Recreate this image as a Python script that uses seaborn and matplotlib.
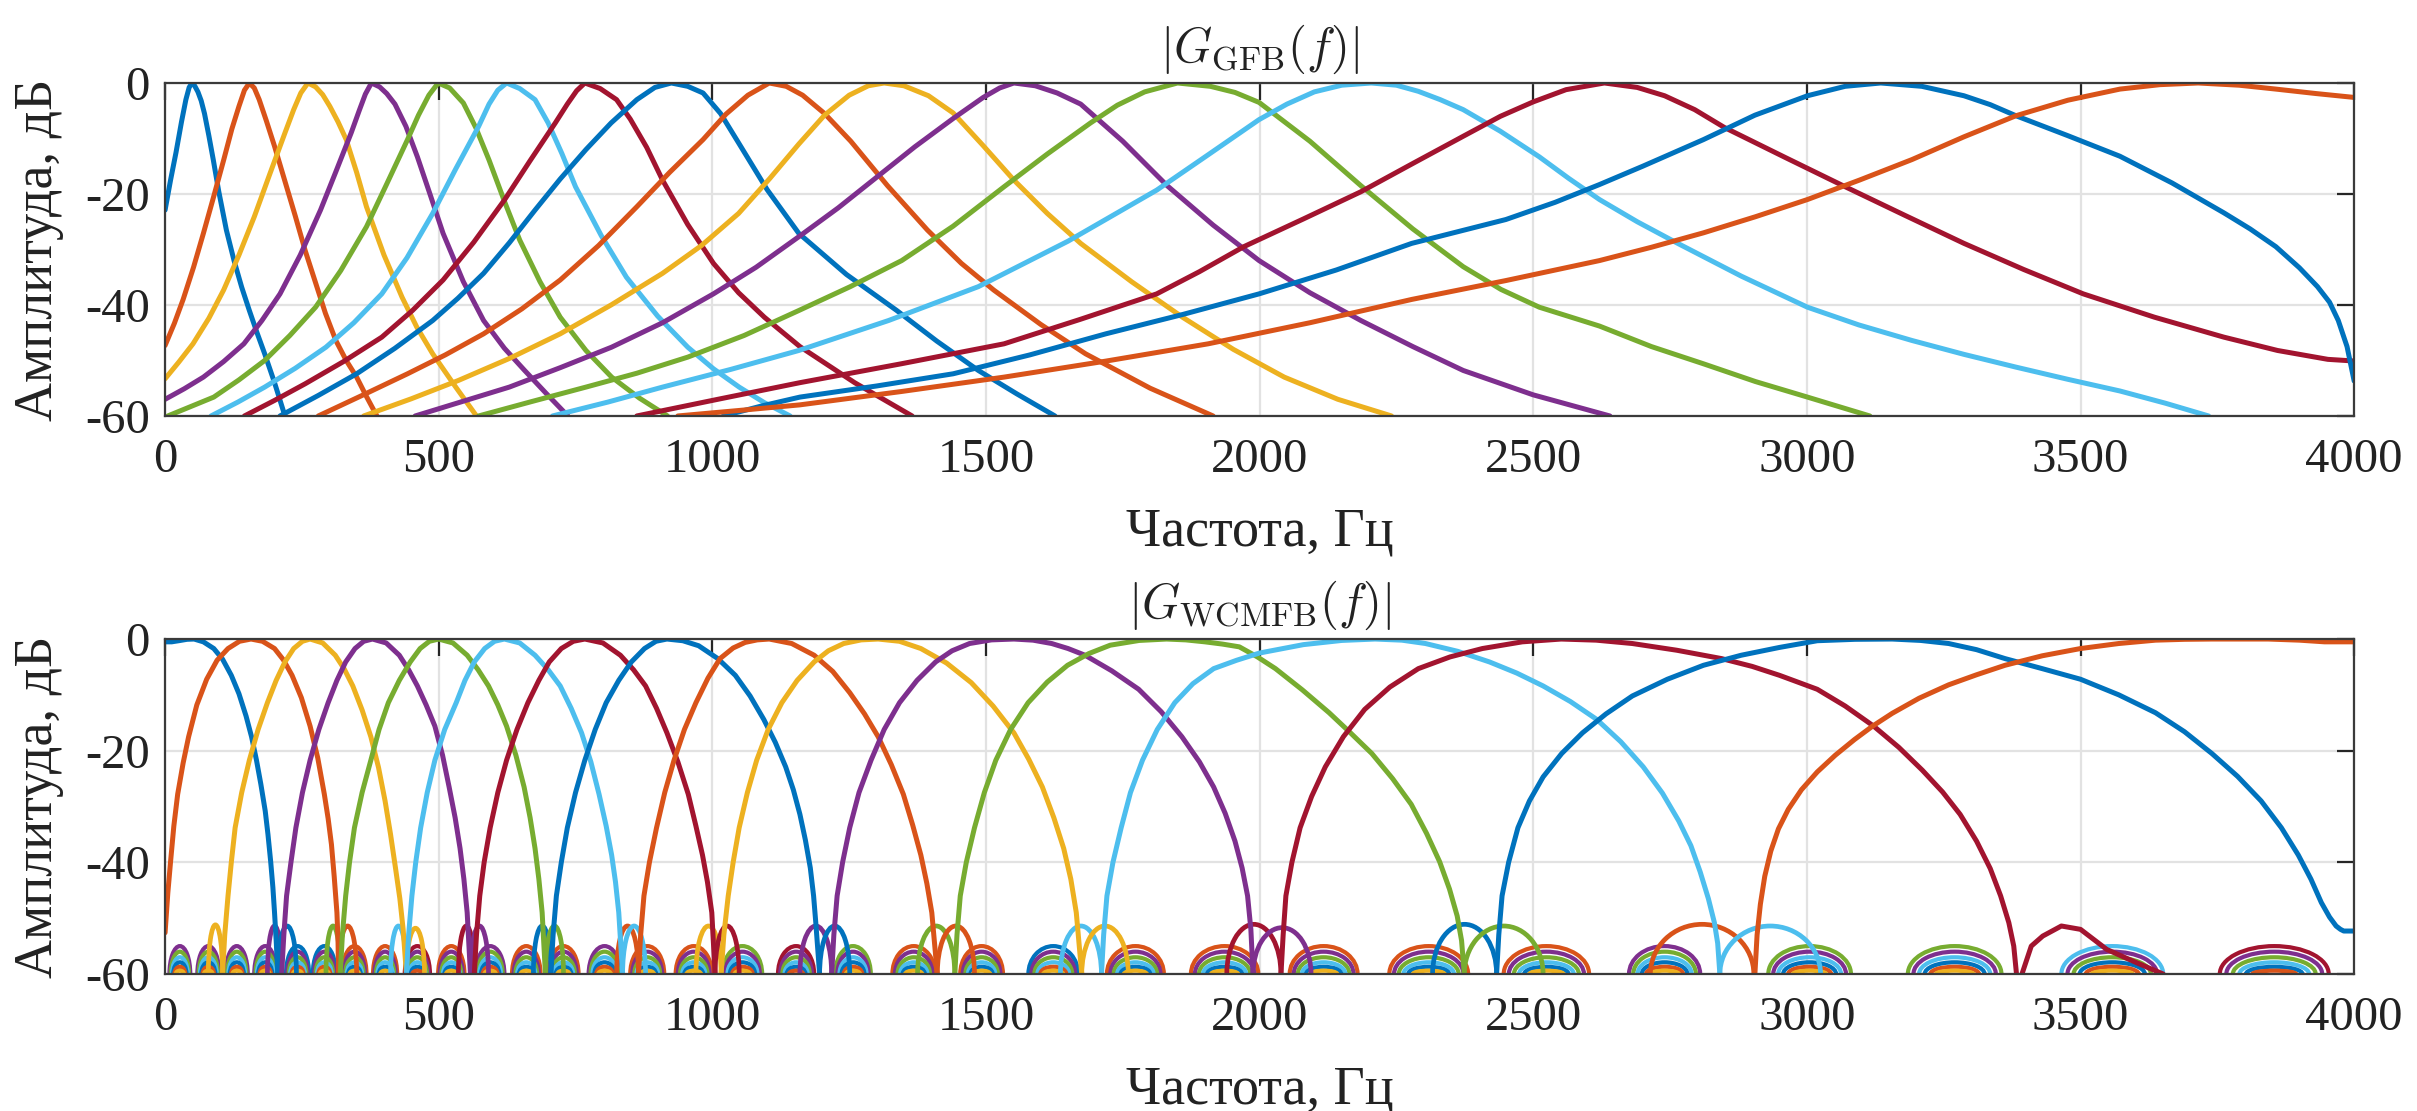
import matplotlib
matplotlib.use("Agg")
import matplotlib.pyplot as plt
from matplotlib.patches import Arc
import pandas as pd
import seaborn as sns

# MATLAB default line colours, cycled over the 16 filters
colors = ['#0072BD', '#D95319', '#EDB120', '#7E2F8E', '#77AC30', '#4DBEEE', '#A2142F']

freq_ticks = [0, 500, 1000, 1500, 2000, 2500, 3000, 3500, 4000]
db_ticks = [-60, -40, -20, 0]

# ---- |G_GFB(f)| : points (Hz, dB) ----
gfb_f = [
    [0, 10, 20, 30, 38, 44, 49, 54, 60, 66, 72, 80, 88, 98, 112, 126, 140, 154, 168, 182, 200, 219],
    [0, 17, 33, 52, 70, 89, 107, 122, 135, 145, 154, 163, 172, 185, 200, 219, 238, 256, 275, 293, 312, 331,
     350, 368, 387],
    [0, 25, 51, 80, 107, 135, 163, 191, 219, 235, 248, 261, 275, 288, 301, 316, 331, 350, 368, 400, 433, 460,
     489, 529, 569],
    [0, 35, 70, 107, 144, 177, 210, 247, 284, 312, 340, 355, 366, 377, 392, 405, 420, 440, 461, 485, 508, 545,
     582, 620, 657, 697, 736],
    [5, 47, 89, 135, 182, 228, 275, 321, 368, 405, 443, 463, 482, 499, 520, 545, 568, 592, 620, 648, 685, 722,
     769, 816, 867, 918],
    [84, 133, 182, 238, 294, 345, 396, 442, 489, 531, 573, 592, 608, 624, 648, 676, 700, 725, 750, 797, 843,
     900, 955, 1002, 1049, 1095, 1142],
    [145, 200, 256, 326, 396, 452, 508, 564, 620, 667, 713, 735, 752, 767, 795, 825, 850, 880, 909, 955, 1002,
     1048, 1095, 1160, 1260, 1365],
    [210, 280, 350, 420, 489, 535, 582, 629, 676, 722, 769, 815, 862, 895, 925, 955, 983, 1015, 1048, 1100,
     1158, 1245, 1337, 1410, 1486, 1556, 1626],
    [280, 360, 443, 512, 582, 652, 722, 792, 862, 922, 983, 1025, 1065, 1104, 1135, 1165, 1205, 1253, 1320,
     1393, 1455, 1514, 1600, 1682, 1800, 1915],
    [363, 450, 536, 630, 722, 815, 909, 980, 1048, 1105, 1158, 1205, 1250, 1285, 1314, 1350, 1395, 1440, 1495,
     1551, 1612, 1673, 1766, 1859, 1952, 2045, 2143, 2241],
    [457, 543, 629, 722, 816, 909, 1002, 1080, 1158, 1230, 1300, 1370, 1440, 1495, 1525, 1551, 1590, 1630,
     1673, 1750, 1831, 1915, 1999, 2092, 2185, 2280, 2372, 2500, 2640],
    [573, 670, 769, 862, 955, 1058, 1158, 1252, 1346, 1440, 1533, 1612, 1691, 1740, 1790, 1850, 1910, 1955,
     1999, 2092, 2185, 2280, 2372, 2441, 2511, 2621, 2716, 2811, 2906, 3001, 3115],
    [708, 809, 909, 1034, 1158, 1322, 1486, 1650, 1812, 1905, 1999, 2050, 2100, 2150, 2204, 2250, 2290, 2330,
     2372, 2440, 2511, 2565, 2621, 2690, 2764, 2880, 3001, 3095, 3192, 3287, 3382, 3477, 3572, 3655, 3734],
    [862, 1010, 1160, 1345, 1533, 1672, 1812, 1890, 1971, 2080, 2185, 2280, 2372, 2440, 2500, 2560, 2630,
     2690, 2740, 2795, 2849, 2960, 3068, 3178, 3287, 3396, 3505, 3635, 3762, 3860, 3952, 4000],
    [1020, 1090, 1160, 1300, 1440, 1580, 1719, 1860, 1999, 2140, 2278, 2450, 2540, 2621, 2700, 2811, 2905,
     3001, 3070, 3135, 3210, 3287, 3335, 3382, 3477, 3572, 3667, 3762, 3810, 3857, 3900, 3933, 3955, 3971,
     3987, 4000],
    [937, 1050, 1160, 1345, 1533, 1720, 1906, 2092, 2278, 2450, 2621, 2716, 2811, 2906, 3001, 3096, 3192,
     3287, 3382, 3477, 3572, 3645, 3715, 3790, 3857, 3930, 4000],
]
gfb_db = [
    [-22.9, -17.5, -12.5, -7, -3, -0.8, 0, -0.5, -1.6, -3.2, -5.5, -9.5, -13.8, -19.5, -26.5, -32, -36.8, -41,
     -45, -48.8, -54, -60],
    [-47.3, -43.3, -39, -33.2, -27.1, -20.4, -13.9, -8.3, -4.2, -1.3, 0, -0.9, -3, -6.8, -11.4, -17.7, -24,
     -30.2, -36, -41.5, -46.4, -50, -53, -56.5, -60],
    [-53.3, -50.3, -47, -42.4, -37.3, -31, -24.1, -16.5, -9, -4.8, -1.8, 0, -0.7, -2.1, -4.2, -7, -10.2, -16.1,
     -22.3, -31, -38.6, -44, -48.8, -54.5, -60],
    [-57, -55.1, -53, -50.2, -47, -42.8, -38, -31, -22.9, -16, -9, -4.9, -2, 0, -0.7, -1.9, -3.8, -7.8, -13.3,
     -20.3, -27.1, -35.8, -42.8, -47.8, -51.8, -56, -60],
    [-60, -58.3, -56.6, -53.5, -50, -45.5, -40.4, -33.8, -25.9, -18.2, -10.2, -5.8, -2.2, 0, -0.9, -3.6, -8.1,
     -13.9, -21.3, -28.3, -35.8, -42.2, -48.2, -53, -56.8, -60],
    [-60, -57.5, -54.8, -51.4, -47.6, -43.2, -38, -31.5, -23.5, -15.5, -7.8, -3.8, -1.3, 0, -1, -3, -7.2, -12.7,
     -18.7, -27.5, -35, -42, -47.6, -51.5, -54.8, -57.6, -60],
    [-60, -57.2, -54.2, -50.2, -45.8, -41, -35.5, -28.7, -21.1, -14, -7.2, -3.8, -1.4, 0, -1, -3, -6.5, -11.6,
     -17.5, -25.5, -32.5, -37.8, -42.2, -47.5, -54, -60],
    [-60, -56.3, -52.4, -47.8, -42.8, -38.8, -34.3, -28.8, -22.9, -17.3, -12, -7.2, -3, -0.8, 0, -0.6, -1.8,
     -5.5, -10.8, -19.2, -27.1, -34.5, -41, -46.5, -51.8, -56, -60],
    [-60, -56.3, -52.4, -49, -45.2, -40.7, -35.5, -29.3, -22.3, -16.1, -10.2, -5.6, -2.2, 0, -0.6, -2.2, -5.5,
     -10.5, -18.5, -26.5, -32.5, -37.3, -43.5, -48.8, -55, -60],
    [-60, -56.9, -53.6, -49.6, -45.2, -40, -34.3, -29.3, -23.5, -17.2, -11, -5.8, -2.2, -0.5, 0, -0.5, -2.3,
     -5.4, -11.3, -17.5, -23.5, -28.9, -35.8, -42.2, -48, -53, -57, -60],
    [-60, -57.4, -54.8, -51.3, -47.6, -43.2, -38, -33.2, -27.7, -22.5, -17, -11.5, -6.4, -2.6, -0.9, 0, -0.5,
     -1.8, -3.8, -10.5, -18.5, -25.6, -32, -37.8, -42.8, -47.5, -51.8, -56.2, -60],
    [-60, -57.4, -54.8, -52.3, -49.4, -45.5, -41, -36.7, -32, -25.8, -18.7, -12.8, -7.2, -4, -1.6, 0, -0.6,
     -1.7, -3.5, -10.5, -18.5, -26.3, -33.1, -37.2, -40.4, -43.8, -47.5, -50.6, -53.8, -56.6, -60],
    [-60, -57.5, -54.8, -51.6, -48.2, -42.8, -36.7, -28.5, -19.3, -13, -6.6, -3.8, -1.6, -0.4, 0, -0.4, -1.5,
     -3, -4.8, -8.7, -13.3, -17.2, -21, -25, -28.9, -34.8, -40.4, -43.6, -46.4, -48.9, -51.2, -53.4, -55.5,
     -57.7, -60],
    [-60, -57, -54, -50.6, -47, -42.6, -38, -34, -29.5, -24.5, -19.6, -14.5, -9.6, -6, -3.4, -1.2, 0, -0.8,
     -2.3, -4.8, -8, -13.4, -18.6, -23.8, -28.9, -33.6, -38, -42.2, -45.8, -48.2, -49.8, -50.1],
    [-60, -58.2, -56.6, -54.6, -52.4, -49, -45.2, -41.7, -38, -33.7, -28.9, -24.6, -21.5, -18.3, -15, -10.2,
     -5.8, -2.3, -0.6, 0, -0.6, -2.3, -3.9, -5.9, -9.5, -13.2, -18, -23.4, -26.3, -29.5, -33.3, -36.7, -39.5,
     -42.8, -47.5, -53.7],
    [-60, -59, -58, -55.6, -53, -50.1, -47, -43.2, -39, -35.6, -32, -29.6, -27, -24.1, -21, -17.5, -13.8,
     -9.7, -5.9, -3.1, -1.1, -0.3, 0, -0.4, -1.1, -1.9, -2.6],
]

# ---- |G_WCMFB(f)| : main lobes (Hz, dB) ----
wc_f = [
    [0, 12, 25, 40, 53, 70, 89, 105, 121, 135, 148, 158, 167, 175, 183, 188, 193, 197, 200, 203, 206],
    [0, 5, 10, 16, 23, 33, 43, 58, 76, 95, 115, 136, 157, 178, 200, 216, 232, 249, 265, 279, 291, 298, 304,
     309, 314, 316, 317],
    [105, 109, 115, 121, 128, 140, 154, 170, 187, 203, 219, 235, 251, 265, 288, 311, 327, 343, 360, 376, 390,
     402, 412, 421, 429, 435, 441],
    [213, 217, 222, 230, 239, 251, 265, 281, 298, 314, 330, 347, 363, 379, 404, 428, 445, 461, 477, 493, 507,
     519, 530, 539, 546, 552, 558],
    [320, 324, 330, 337, 346, 360, 376, 391, 408, 428, 448, 466, 483, 500, 526, 552, 572, 591, 608, 624, 641,
     656, 667, 676, 683, 689, 695],
    [441, 445, 451, 458, 467, 479, 493, 511, 532, 548, 565, 584, 602, 620, 648, 676, 700, 722, 742, 761, 778,
     793, 806, 816, 823, 829, 836],
    [565, 569, 575, 583, 594, 608, 624, 643, 663, 683, 702, 724, 746, 767, 800, 832, 856, 878, 898, 917, 937,
     956, 970, 982, 991, 999, 1005],
    [705, 709, 715, 724, 735, 750, 767, 786, 806, 829, 852, 876, 897, 917, 946, 975, 1010, 1042, 1069, 1094,
     1115, 1134, 1148, 1160, 1170, 1179, 1185, 1189, 1196],
    [865, 869, 875, 885, 898, 913, 930, 949, 970, 992, 1014, 1038, 1060, 1082, 1104, 1145, 1186, 1220, 1251,
     1278, 1303, 1327, 1349, 1366, 1381, 1392, 1401, 1411],
    [1016, 1021, 1029, 1038, 1049, 1064, 1081, 1102, 1127, 1155, 1186, 1212, 1240, 1272, 1303, 1342, 1381,
     1428, 1473, 1513, 1551, 1578, 1603, 1624, 1642, 1655, 1665, 1675],
    [1218, 1222, 1228, 1238, 1251, 1268, 1290, 1314, 1342, 1374, 1408, 1438, 1470, 1510, 1551, 1586, 1620,
     1650, 1681, 1730, 1779, 1820, 1858, 1890, 1916, 1937, 1955, 1968, 1978, 1984, 1988],
    [1443, 1447, 1453, 1464, 1479, 1497, 1518, 1545, 1577, 1612, 1649, 1688, 1727, 1780, 1830, 1865, 1900,
     1932, 1963, 1996, 2029, 2078, 2127, 2166, 2205, 2243, 2277, 2305, 2329, 2347, 2361, 2369, 2374],
    [1711, 1715, 1721, 1732, 1747, 1764, 1786, 1813, 1845, 1878, 1916, 1958, 2000, 2080, 2150, 2211, 2260,
     2303, 2362, 2420, 2470, 2518, 2568, 2616, 2660, 2701, 2736, 2766, 2788, 2805, 2820, 2831, 2837, 2841],
    [2039, 2043, 2048, 2059, 2074, 2095, 2120, 2153, 2192, 2238, 2290, 2348, 2407, 2480, 2551, 2615, 2681,
     2762, 2844, 2900, 2950, 3019, 3070, 3122, 3168, 3211, 3248, 3280, 3310, 3335, 3354, 3369, 3378, 3383,
     3388, 3393, 3410, 3431, 3465, 3500, 3548, 3603, 3651, 3660],
    [2433, 2437, 2443, 2455, 2472, 2493, 2518, 2552, 2590, 2633, 2681, 2745, 2811, 2880, 2950, 3019, 3088,
     3156, 3208, 3259, 3310, 3362, 3430, 3500, 3570, 3637, 3690, 3740, 3787, 3830, 3867, 3898, 3921, 3940,
     3955, 3967, 3975, 3981, 4000],
    [2905, 2909, 2915, 2923, 2934, 2948, 2966, 2990, 3019, 3052, 3087, 3120, 3156, 3205, 3259, 3310, 3362,
     3430, 3500, 3570, 3637, 3690, 3740, 3790, 3843, 3900, 3946, 4000],
]
wc_db = [
    [-0.5, -0.5, -0.3, -0.05, 0, -0.5, -1.7, -3.6, -6.5, -9.8, -13.8, -17.5, -21.7, -26, -30.8, -35, -39.9,
     -44.5, -49, -54, -60],
    [-52.6, -45.5, -39.9, -33.5, -27.8, -22.2, -17.5, -11.8, -7.2, -3.8, -1.7, -0.4, 0, -0.4, -1.7, -3.7,
     -6.5, -10.5, -15.6, -21.3, -27.8, -32.2, -36.8, -42.5, -49, -54, -60],
    [-60, -53, -46, -40, -33.8, -27.5, -21.7, -16.2, -11.4, -7.4, -4.1, -1.7, -0.4, 0, -0.7, -2.9, -5.3,
     -8.4, -12.7, -17.5, -23, -29, -35, -41, -46.5, -52, -60],
    [-60, -53, -46, -40, -33.8, -27.5, -21.7, -16.2, -11.4, -7.4, -4.1, -1.7, -0.4, 0, -0.7, -2.9, -5.5,
     -8.4, -11.8, -15.6, -20.8, -26.5, -32, -37.5, -43, -49, -60],
    [-60, -53, -46, -40, -33.8, -27.5, -21.7, -16.2, -11.4, -7.4, -4.1, -1.7, -0.4, 0, -0.7, -2.9, -5.5,
     -8.4, -11.8, -15.6, -20.8, -26.5, -32, -37.5, -43, -49, -60],
    [-60, -53, -46, -40, -33.8, -27.5, -21.7, -16.2, -11.4, -7.4, -4.1, -1.7, -0.4, 0, -0.7, -2.9, -5.5,
     -8.4, -12.4, -16.8, -22, -27.8, -33.5, -38.7, -43.5, -49, -60],
    [-60, -53, -46, -40, -33.8, -27.5, -21.7, -16.2, -11.4, -7.4, -4.1, -1.7, -0.4, 0, -0.7, -2.9, -5.5,
     -8.4, -12.4, -16.8, -22, -27.8, -33.5, -38.7, -43.5, -49, -60],
    [-60, -53, -46, -40, -33.8, -27.5, -21.7, -16.2, -11.4, -7.4, -4.1, -1.7, -0.4, 0, -0.3, -1.2, -3.5,
     -6.5, -10.2, -14.4, -18.5, -22.9, -27, -31.4, -36, -41, -46, -50.8, -60],
    [-60, -53, -46, -40, -33.8, -27.5, -21.7, -16.2, -11.4, -7, -3.5, -1.6, -0.6, -0.15, 0, -0.8, -2.9, -5.8,
     -9.6, -13.4, -17.5, -22.5, -27.8, -33.3, -38.7, -43.8, -49, -60],
    [-60, -53, -46, -40, -33.8, -27.5, -21.7, -16.2, -11.4, -7.4, -4.1, -2.1, -0.8, -0.15, 0, -0.4, -1.7,
     -4.3, -7.8, -12, -16.8, -21.5, -26.5, -32, -37.5, -43, -49, -60],
    [-60, -53, -46, -40, -33.8, -27.5, -21.7, -16.2, -11.4, -7.4, -4.1, -2.1, -0.8, -0.15, 0, -0.2, -0.8,
     -1.7, -2.9, -5.7, -9, -13, -17.5, -22, -26.5, -31.2, -36.2, -41, -46, -52, -60],
    [-60, -53, -46, -40, -33.8, -27.5, -21.7, -16.2, -11.4, -7.7, -4.7, -2.6, -1.1, -0.25, 0, -0.15, -0.5,
     -0.9, -1.4, -3.2, -5.3, -9.1, -13.2, -16.8, -20.5, -25, -29.6, -34.8, -39.9, -44.8, -49.6, -54, -60],
    [-60, -53, -46, -40, -33.8, -27.5, -21.7, -16.2, -11.4, -8, -5.3, -3.8, -2.5, -1, -0.25, 0, -0.2, -0.8,
     -2.2, -4.1, -6.1, -8.4, -11.2, -14.4, -18.4, -22.9, -27.6, -32.6, -37, -41.7, -46.5, -50.8, -54.5, -60],
    [-60, -53, -46, -40, -33.8, -28.2, -22.9, -17.5, -12.6, -8.6, -5.3, -3.2, -1.7, -0.5, 0, -0.2, -0.8, -2,
     -3.5, -4.9, -6.5, -9, -12, -15.6, -19.4, -23.5, -27.4, -31.4, -36.2, -41.1, -46, -50.8, -55, -60,
     -65, -60, -55, -53.2, -51.4, -52, -55.6, -58, -60, -62],
    [-60, -53, -46, -40, -33.8, -29, -24.7, -20.5, -16.8, -13.4, -10.2, -7.2, -4.7, -2.9, -1.5, -0.3, -0.05,
     0, -0.25, -0.8, -1.9, -3.5, -5.3, -7.2, -10, -13.2, -16.6, -20.5, -24.6, -29, -33.8, -38.7, -43, -47.2,
     -49.8, -51.4, -52, -52.3, -52.3],
    [-60, -53, -47.5, -42.5, -38, -34, -30.5, -27, -23.8, -20.8, -18, -15.6, -13.3, -10.6, -8.2, -6.4, -4.7,
     -3, -1.7, -0.8, -0.2, -0.05, 0, 0, 0, -0.2, -0.5, -0.5],
]

# first sidelobes next to each main lobe: filter index, left end, right end, peak (dB)
side_filter = [2, 3, 0, 4, 1, 5, 2, 6, 3, 0, 4, 1, 5, 2, 6, 3, 0, 4, 1, 5, 2, 6, 3, 0, 4, 1, 5]
side_left = [79, 187, 206, 294, 317, 412, 441, 536, 558, 673, 695, 825, 836, 970, 1005, 1160, 1196,
             1375, 1411, 1636, 1675, 1940, 1988, 2316, 2374, 2714, 2841]
side_right = [105, 213, 240, 320, 350, 441, 474, 565, 591, 705, 728, 865, 878, 1016, 1049, 1218, 1251,
              1443, 1479, 1711, 1760, 2039, 2094, 2433, 2518, 2903, 3025]
side_peak = [-51.2, -51.4, -51.4, -51.4, -51.4, -51.4, -51.8, -51.4, -51.4, -51.4, -51.4, -51.4, -51.4,
             -51.4, -51.4, -51.4, -51.4, -51.4, -51.4, -51.4, -51.4, -51.1, -51.7, -51.1, -51.4, -51.1, -51.4]

# clusters of low sidelobes along the floor: centre, outer width, filter on top
cluster_f = [27, 79, 131, 183, 242, 291, 346, 402, 461, 523, 594, 660, 728, 803, 881, 966, 1055, 1153,
             1257, 1368, 1492, 1623, 1773, 1936, 2117, 2309, 2524, 2740, 3005, 3270, 3558, 3854]
cluster_w = [38, 40, 40, 40, 42, 42, 44, 44, 46, 48, 52, 52, 55, 58, 62, 66, 72, 66, 65, 78, 78, 91,
             104, 123, 124, 144, 156, 130, 151, 171, 186, 199]
cluster_top = [3, 3, 3, 3, 0, 0, 1, 1, 6, 1, 3, 1, 1, 3, 1, 1, 4, 6, 4, 1, 1, 0, 1, 1, 1, 1, 1, 3,
               4, 4, 5, 6]
ring_order = [3, 4, 5, 0, 1, 2, 6]
ring_peak = [-55, -56, -57, -57.9, -58.7, -59.4]
ring_frac = [1, 0.88, 0.76, 0.64, 0.52, 0.4]


def long_table(freqs, levels):
    rows = []
    for k, (fs, ds) in enumerate(zip(freqs, levels)):
        for f, d in zip(fs, ds):
            rows.append(('g%02d' % k, f, d))
    return pd.DataFrame(rows, columns=['filt', 'f', 'db'])


sns.set_theme(style='white')
plt.rcParams['font.family'] = ['Liberation Serif', 'DejaVu Serif']
plt.rcParams['mathtext.fontset'] = 'cm'
plt.rcParams['axes.unicode_minus'] = False

names = ['g%02d' % k for k in range(16)]
pal = {n: colors[k % 7] for k, n in enumerate(names)}

fig = plt.figure(figsize=(24.17, 11.11), dpi=100)
ax1 = fig.add_axes([0.0683, 0.6256, 0.9057, 0.2997])
ax2 = fig.add_axes([0.0683, 0.1233, 0.9057, 0.3015])

sns.lineplot(data=long_table(gfb_f, gfb_db), x='f', y='db', hue='filt', hue_order=names,
             palette=pal, estimator=None, sort=False, legend=False, linewidth=3.6, ax=ax1)

# lower panel: floor sidelobes first, then first sidelobes, then the main lobes
for c, w, top in zip(cluster_f, cluster_w, cluster_top):
    order = [top] + [i for i in ring_order if i != top]
    for ci, pk, fr in zip(order, ring_peak, ring_frac):
        ax2.add_patch(Arc((c, -60), w * fr, 2 * (pk + 60), theta1=0, theta2=180,
                          color=colors[ci], lw=3.0))
for k, l, r, pk in zip(side_filter, side_left, side_right, side_peak):
    ax2.add_patch(Arc(((l + r) / 2, -60), r - l, 2 * (pk + 60), theta1=0, theta2=180,
                      color=colors[k], lw=3.4))

sns.lineplot(data=long_table(wc_f, wc_db), x='f', y='db', hue='filt', hue_order=names,
             palette=pal, estimator=None, sort=False, legend=False, linewidth=3.6, ax=ax2)

titles = [r'$|G_{\mathrm{GFB}}(f)|$', r'$|G_{\mathrm{WCMFB}}(f)|$']
for ax, t in zip([ax1, ax2], titles):
    ax.set_xlim(0, 4000)
    ax.set_ylim(-60, 0)
    ax.set_xticks(freq_ticks)
    ax.set_yticks(db_ticks)
    ax.grid(True, color='#e2e2e2', lw=1.6)
    ax.set_axisbelow(True)
    for s in ax.spines.values():
        s.set_color('#3a3a3a')
        s.set_linewidth(1.6)
    ax.tick_params(direction='in', length=12, width=1.6, color='#262626',
                   top=True, right=True, labelsize=35, labelcolor='#222222')
    ax.tick_params(axis='x', pad=16)
    ax.tick_params(axis='y', pad=11)
    ax.set_xlabel('Частота, Гц', fontsize=39, color='#222222')
    ax.set_ylabel('Амплитуда, дБ', fontsize=39, color='#222222')
    ax.xaxis.set_label_coords(0.5, -0.272)
    ax.yaxis.set_label_coords(-0.046, 0.5)
    ax.text(0.5, 1.1, t, transform=ax.transAxes, ha='center', va='center',
            fontsize=35, color='#222222')

fig.savefig('out.png', dpi=100)
